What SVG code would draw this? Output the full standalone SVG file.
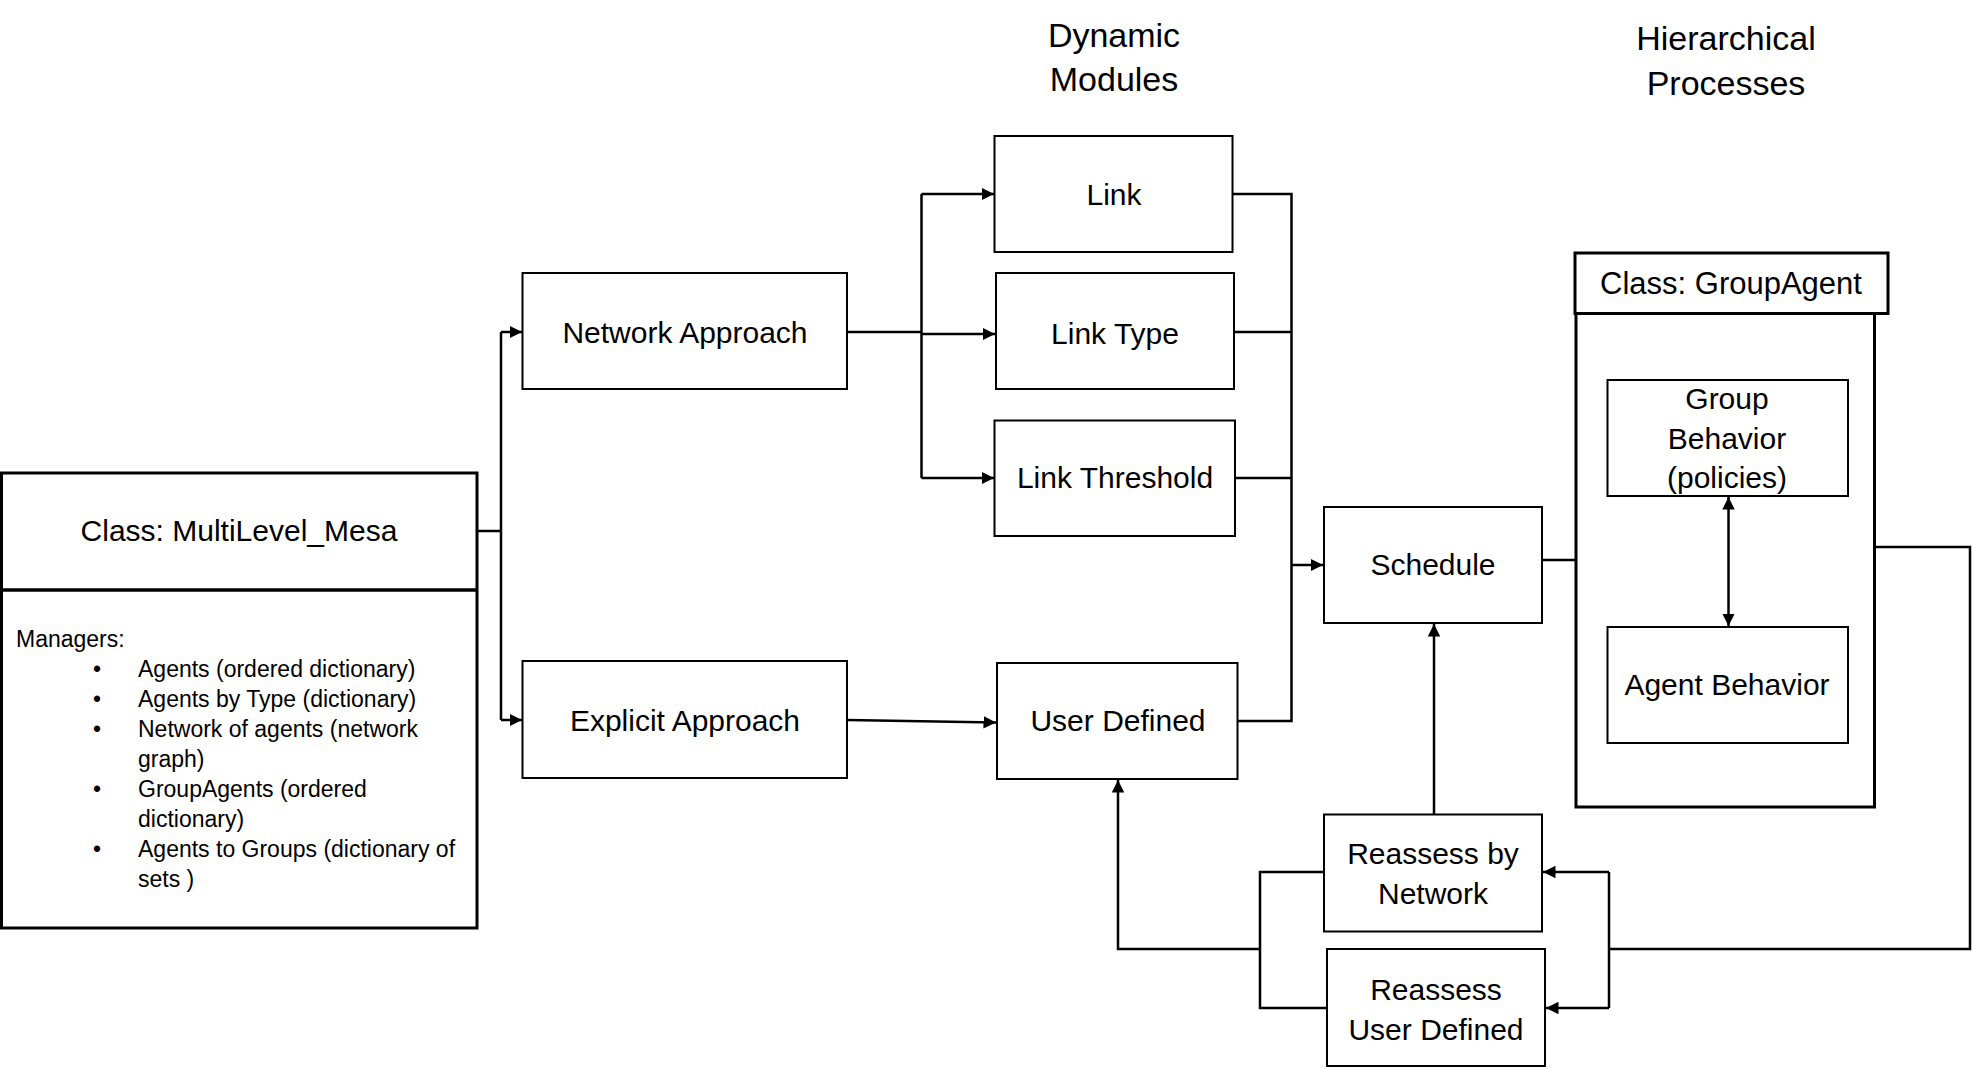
<svg xmlns="http://www.w3.org/2000/svg" width="1974" height="1069" viewBox="0 0 1974 1069">
<style>
text{font-family:"Liberation Sans",Arial,sans-serif;fill:#000}
.lbl{font-size:30px;text-anchor:middle}
.hdr{font-size:34px;text-anchor:middle}
.lst{font-size:23px}
.box{fill:#fff;stroke:#000;stroke-width:2}
.thick{fill:#fff;stroke:#000;stroke-width:3}
.c{fill:none;stroke:#000;stroke-width:2.5}
</style>
<defs>
<marker id="ah" viewBox="0 0 10 10" refX="10" refY="5" markerWidth="5" markerHeight="5" orient="auto-start-reverse" markerUnits="strokeWidth">
<path d="M0,0 L10,5 L0,10 z" fill="#000"/>
</marker>
</defs>
<rect width="1974" height="1069" fill="#fff"/>

<g id="headers">
<text class="hdr" x="1114" y="47">Dynamic</text>
<text class="hdr" x="1114" y="91">Modules</text>
<text class="hdr" x="1726" y="50">Hierarchical</text>
<text class="hdr" x="1726" y="95">Processes</text>
</g>

<g id="multilevel">
<rect class="thick" x="1.5" y="473" width="475.5" height="455"/>
<line x1="1.5" y1="590" x2="477" y2="590" stroke="#000" stroke-width="3.5"/>
<text class="lbl" x="239" y="541">Class: MultiLevel_Mesa</text>
<text class="lst" x="16" y="647">Managers:</text>
<text class="lst" x="93" y="677">•</text>
<text class="lst" x="138" y="677">Agents (ordered dictionary)</text>
<text class="lst" x="93" y="707">•</text>
<text class="lst" x="138" y="707">Agents by Type (dictionary)</text>
<text class="lst" x="93" y="737">•</text>
<text class="lst" x="138" y="737">Network of agents (network</text>
<text class="lst" x="138" y="767">graph)</text>
<text class="lst" x="93" y="797">•</text>
<text class="lst" x="138" y="797">GroupAgents (ordered</text>
<text class="lst" x="138" y="827">dictionary)</text>
<text class="lst" x="93" y="857">•</text>
<text class="lst" x="138" y="857">Agents to Groups (dictionary of</text>
<text class="lst" x="138" y="887">sets )</text>
</g>

<g id="network-approach">
<rect class="box" x="522.5" y="273" width="324.5" height="116"/>
<text class="lbl" x="685" y="343">Network Approach</text>
</g>
<g id="explicit-approach">
<rect class="box" x="522.5" y="661" width="324.5" height="117"/>
<text class="lbl" x="685" y="731">Explicit Approach</text>
</g>
<g id="link">
<rect class="box" x="994.5" y="136" width="238" height="116"/>
<text class="lbl" x="1114" y="205">Link</text>
</g>
<g id="link-type">
<rect class="box" x="996" y="273" width="238" height="116"/>
<text class="lbl" x="1115" y="344">Link Type</text>
</g>
<g id="link-threshold">
<rect class="box" x="994.5" y="420.5" width="240.5" height="115.5"/>
<text class="lbl" x="1115" y="488">Link Threshold</text>
</g>
<g id="user-defined">
<rect class="box" x="997" y="663" width="240.5" height="116"/>
<text class="lbl" x="1118" y="731">User Defined</text>
</g>
<g id="schedule">
<rect class="box" x="1324" y="507" width="218" height="116"/>
<text class="lbl" x="1433" y="575">Schedule</text>
</g>
<g id="groupagent">
<rect class="thick" x="1576" y="313.5" width="298.5" height="493.5"/>
<rect class="thick" x="1575" y="253" width="313" height="60.5"/>
<text class="lbl" x="1731" y="294" style="font-size:31px">Class: GroupAgent</text>
</g>
<g id="group-behavior">
<rect class="box" x="1607.5" y="380" width="240.5" height="116"/>
<text class="lbl" x="1727" y="409">Group</text>
<text class="lbl" x="1727" y="449">Behavior</text>
<text class="lbl" x="1727" y="488">(policies)</text>
</g>
<g id="agent-behavior">
<rect class="box" x="1607.5" y="627" width="240.5" height="116"/>
<text class="lbl" x="1727" y="695">Agent Behavior</text>
</g>
<g id="reassess-network">
<rect class="box" x="1324" y="814.5" width="218" height="117"/>
<text class="lbl" x="1433" y="864">Reassess by</text>
<text class="lbl" x="1433" y="904">Network</text>
</g>
<g id="reassess-user">
<rect class="box" x="1327" y="949" width="218" height="117"/>
<text class="lbl" x="1436" y="1000">Reassess</text>
<text class="lbl" x="1436" y="1040">User Defined</text>
</g>

<g id="connectors">
<path class="c" d="M477,531 H501"/>
<path class="c" d="M501,332 V720"/>
<path class="c" d="M501,332 H522" marker-end="url(#ah)"/>
<path class="c" d="M501,720 H522" marker-end="url(#ah)"/>
<path class="c" d="M847,332 H921.5"/>
<path class="c" d="M921.5,194 V478"/>
<path class="c" d="M921.5,194 H994" marker-end="url(#ah)"/>
<path class="c" d="M921.5,334 H995" marker-end="url(#ah)"/>
<path class="c" d="M921.5,478 H994" marker-end="url(#ah)"/>
<path class="c" d="M847,720 L996,722.5" marker-end="url(#ah)"/>
<path class="c" d="M1232.5,194 H1291.5 V721 H1237.5"/>
<path class="c" d="M1234,332 H1291.5"/>
<path class="c" d="M1235,478 H1291.5"/>
<path class="c" d="M1291.5,565 H1323" marker-end="url(#ah)"/>
<path class="c" d="M1542,560 H1576"/>
<path class="c" d="M1874.5,547 H1970 V949 H1609"/>
<path class="c" d="M1609,872 V1008"/>
<path class="c" d="M1609,872 H1543" marker-end="url(#ah)"/>
<path class="c" d="M1609,1008 H1546" marker-end="url(#ah)"/>
<path class="c" d="M1434,814 V624" marker-end="url(#ah)"/>
<path class="c" d="M1324,872 H1260 V1008 H1327"/>
<path class="c" d="M1260,949 H1118 V780" marker-end="url(#ah)"/>
<path class="c" d="M1728.5,497 V626" marker-start="url(#ah)" marker-end="url(#ah)"/>
</g>
</svg>
